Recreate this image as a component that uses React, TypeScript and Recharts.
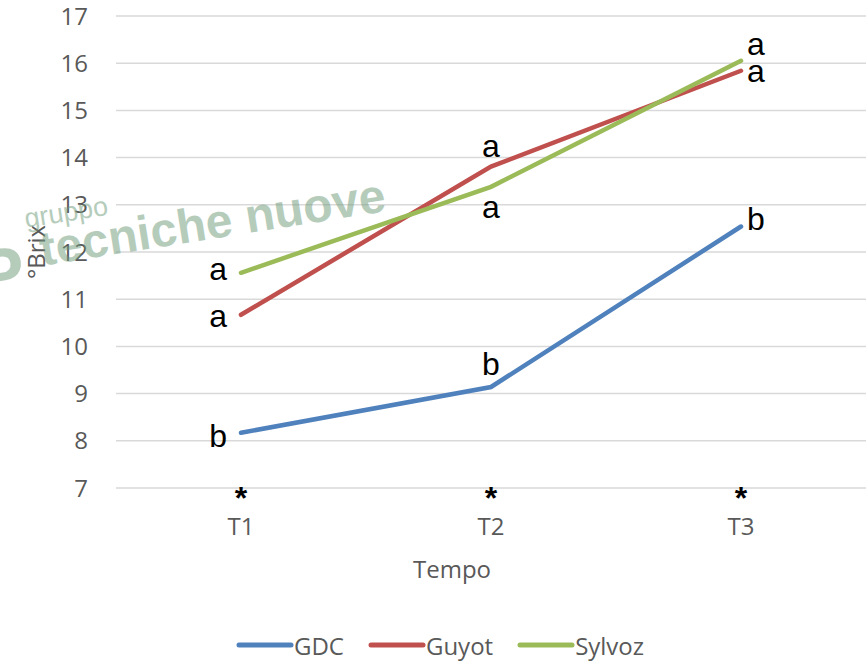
import { CartesianGrid, Legend, LabelList, Line, LineChart, XAxis, YAxis } from "recharts";

const categories = ["T1", "T2", "T3"];
const gdc = [8.17, 9.14, 12.54];
const guyot = [10.67, 13.81, 15.84];
const sylvoz = [11.56, 13.38, 16.05];
const gdcLetters = ["b", "b", "b"];
const guyotLetters = ["a", "a", "a"];
const sylvozLetters = ["a", "a", "a"];
const significance = ["*", "*", "*"];
const yTicks = [7, 8, 9, 10, 11, 12, 13, 14, 15, 16, 17];

const data = categories.map((t, i) => ({
  t,
  GDC: gdc[i],
  Guyot: guyot[i],
  Sylvoz: sylvoz[i],
  gdcL: gdcLetters[i],
  guyotL: guyotLetters[i],
  sylvozL: sylvozLetters[i],
}));

const AXIS_FONT = "'Open Sans', sans-serif";
const LETTER_FONT = "'Liberation Sans', Arial, sans-serif";
const GRAY = "#595959";

// per-point placement of the letters: [anchor, dx, baseline dy]
type Place = ["start" | "middle" | "end", number, number];
const GDC_PLACE: Place[] = [["end", -14, 14], ["middle", 0, -12], ["start", 6, 3]];
const GUYOT_PLACE: Place[] = [["end", -14, 12], ["middle", 0, -10], ["start", 6, 11]];
const SYLVOZ_PLACE: Place[] = [["end", -14, 7], ["middle", 0, 31], ["start", 6, -6]];

const letterLabel = (place: Place[]) => (props: any) => {
  const { x, y, value, index } = props;
  const [anchor, dx, dy] = place[index];
  return (
    <text
      x={Number(x) + dx}
      y={Number(y) + dy}
      textAnchor={anchor}
      fontFamily={LETTER_FONT}
      fontSize={32}
      fill="#000"
    >
      {value}
    </text>
  );
};

const XTick = (props: any) => {
  const { x, y, payload, index } = props;
  return (
    <g>
      <text x={x} y={y + 21} textAnchor="middle" fontFamily={LETTER_FONT} fontWeight="bold" fontSize={32} fill="#000">
        {significance[index]}
      </text>
      <text x={x} y={y + 47} textAnchor="middle" fontFamily={AXIS_FONT} fontSize={24} fill={GRAY}>
        {payload.value}
      </text>
    </g>
  );
};

const renderLegend = (props: any) => (
  <div
    style={{
      display: "flex",
      justifyContent: "center",
      alignItems: "center",
      gap: 24,
      height: 34,
      paddingLeft: 14,
      fontFamily: AXIS_FONT,
      fontSize: 24,
      color: GRAY,
    }}
  >
    {props.payload.map((e: any) => (
      <div key={e.value} style={{ display: "flex", alignItems: "center" }}>
        <svg width={58} height={10}>
          <line x1={3} y1={5} x2={55} y2={5} stroke={e.color} strokeWidth={5} strokeLinecap="round" />
        </svg>
        <span>{e.value}</span>
      </div>
    ))}
  </div>
);

export default function App() {
  return (
    <div style={{ position: "absolute", left: 0, top: 0, width: 866, height: 662, background: "#fff" }}>
      <LineChart width={866} height={662} data={data} margin={{ top: 16, right: 0, left: 0, bottom: 0 }}>
        <CartesianGrid vertical={false} stroke="#d9d9d9" strokeWidth={1.5} />
        <XAxis
          dataKey="t"
          height={140}
          padding={{ left: 125, right: 125 }}
          axisLine={false}
          tickLine={false}
          tickSize={0}
          tickMargin={0}
          tick={<XTick />}
          label={() => (
            <text x={452} y={578} textAnchor="middle" fontFamily={AXIS_FONT} fontSize={24} fill={GRAY}>
              Tempo
            </text>
          )}
        />
        <YAxis
          width={116}
          domain={[7, 17]}
          ticks={yTicks}
          interval={0}
          axisLine={false}
          tickLine={false}
          tickSize={0}
          tickMargin={28}
          tick={{ fontFamily: AXIS_FONT, fontSize: 24, fill: GRAY }}
          label={() => (
            <text
              x={45}
              y={252}
              transform="rotate(-90, 45, 252)"
              textAnchor="middle"
              fontFamily={AXIS_FONT}
              fontSize={24}
              fill={GRAY}
            >
              °Brix
            </text>
          )}
        />
        <Legend verticalAlign="bottom" content={renderLegend} />
        <Line dataKey="GDC" stroke="#4f81bd" strokeWidth={4.5} strokeLinecap="round" dot={false} isAnimationActive={false}>
          <LabelList dataKey="gdcL" content={letterLabel(GDC_PLACE)} />
        </Line>
        <Line dataKey="Guyot" stroke="#c0504d" strokeWidth={4.5} strokeLinecap="round" dot={false} isAnimationActive={false}>
          <LabelList dataKey="guyotL" content={letterLabel(GUYOT_PLACE)} />
        </Line>
        <Line dataKey="Sylvoz" stroke="#9bbb59" strokeWidth={4.5} strokeLinecap="round" dot={false} isAnimationActive={false}>
          <LabelList dataKey="sylvozL" content={letterLabel(SYLVOZ_PLACE)} />
        </Line>
      </LineChart>
      <svg width={866} height={662} style={{ position: "absolute", left: 0, top: 0, pointerEvents: "none" }}>
        <g fill="#6e9a7a" opacity={0.5} transform="rotate(-9, 40, 265)">
          <text x={-24} y={292} fontFamily={LETTER_FONT} fontWeight="bold" fontSize={72}>P</text>
          <text x={32} y={226} fontFamily={LETTER_FONT} fontSize={27}>gruppo</text>
          <text x={42} y={266} fontFamily={LETTER_FONT} fontWeight="bold" fontSize={48}>tecniche nuove</text>
        </g>
      </svg>
    </div>
  );
}
